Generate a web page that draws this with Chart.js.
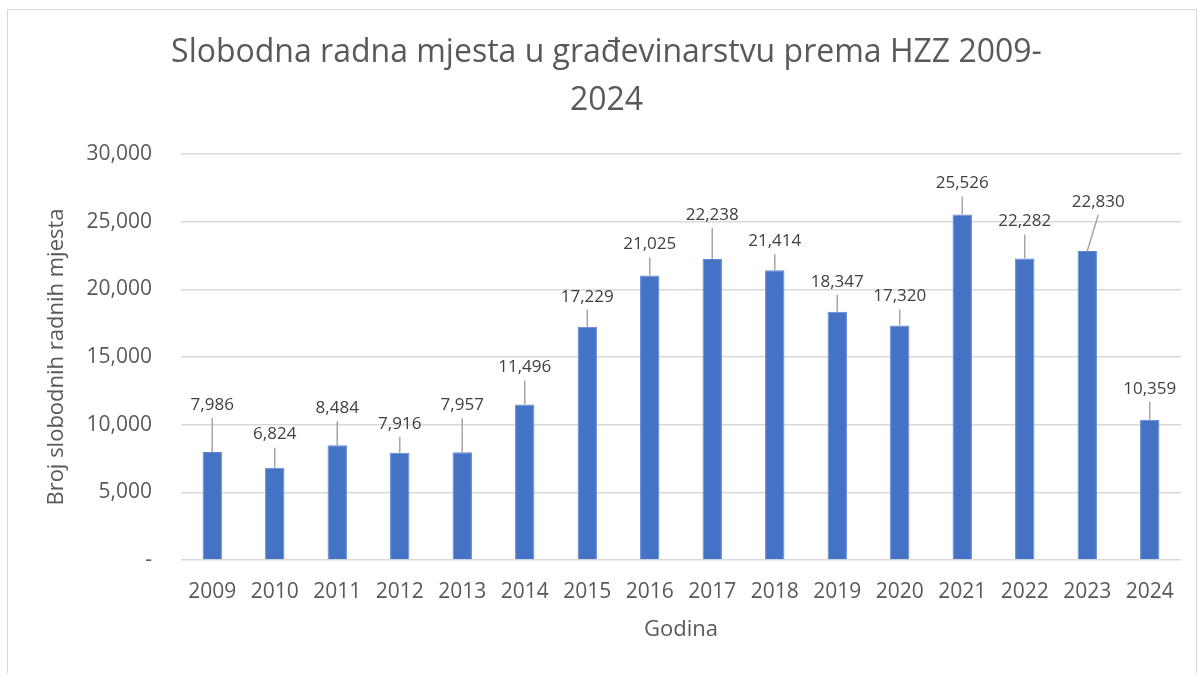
<!DOCTYPE html>
<html lang="hr">
<head>
  <meta charset="UTF-8"/>
  <title>Slobodna radna mjesta u građevinarstvu</title>
  <script src="https://cdn.jsdelivr.net/npm/chart.js"></script>
  <style>
    body {
      margin: 0;
      background: #fff;
      font-family: 'Open Sans', sans-serif;
    }
    .frame {
      position: absolute;
      left: 7px;
      top: 9px;
      width: 1190px;
      height: 670px;
      border: 1px solid #d9d9d9;
      box-sizing: border-box;
    }
  </style>
</head>
<body>
  <div class="frame">
    <canvas id="hzzChart" width="1188" height="668"></canvas>
  </div>

  <script>
    const years = ['2009', '2010', '2011', '2012', '2013', '2014', '2015', '2016',
                   '2017', '2018', '2019', '2020', '2021', '2022', '2023', '2024'];
    const vacancies = [7986, 6824, 8484, 7916, 7957, 11496, 17229, 21025,
                       22238, 21414, 18347, 17320, 25526, 22282, 22830, 10359];
    const yTicks = [0, 5000, 10000, 15000, 20000, 25000, 30000];

    // where Excel dragged each data label (px from the bar top)
    const labelShift = [
      [0, -47], [0, -33], [0, -37], [0, -29], [0, -47], [0, -37], [0, -30], [0, -31],
      [0, -44], [0, -29], [0, -30], [0, -29], [0, -31], [0, -37], [11, -49], [0, -31]
    ];

    const fmt = v => v === 0 ? '-' : v.toLocaleString('en-US');

    const leaderLabels = {
      id: 'leaderLabels',
      afterDatasetsDraw(chart) {
        const ctx = chart.ctx;
        const meta = chart.getDatasetMeta(0);
        ctx.save();
        ctx.font = '17px "Open Sans", sans-serif';
        ctx.textAlign = 'center';
        ctx.textBaseline = 'middle';
        meta.data.forEach((bar, i) => {
          const [dx, dy] = labelShift[i];
          const lx = bar.x + dx;
          const ly = bar.y + dy;
          ctx.strokeStyle = '#a6a6a6';
          ctx.lineWidth = 1.5;
          ctx.beginPath();
          ctx.moveTo(lx, ly + 13);
          ctx.lineTo(bar.x, bar.y);
          ctx.stroke();
          ctx.fillStyle = '#404040';
          ctx.fillText(fmt(vacancies[i]), lx, ly);
        });
        ctx.restore();
      }
    };

    new Chart(document.getElementById('hzzChart'), {
      type: 'bar',
      data: {
        labels: years,
        datasets: [{
          data: vacancies,
          backgroundColor: '#4472c4',
          borderColor: '#5b86d6',
          borderWidth: 1,
          barPercentage: 0.31,
          categoryPercentage: 1
        }]
      },
      options: {
        responsive: false,
        animation: false,
        layout: { padding: { left: 24, right: 15, top: 0, bottom: 0 } },
        plugins: {
          legend: { display: false },
          tooltip: { enabled: false },
          title: {
            display: true,
            text: ['Slobodna radna mjesta u građevinarstvu prema HZZ 2009-', '2024'],
            color: '#595959',
            font: { family: 'Open Sans', size: 32, weight: 'normal', lineHeight: 1.5 },
            padding: { top: 19, bottom: 29 }
          }
        },
        scales: {
          x: {
            afterFit(scale) { scale.height = 118; },
            grid: { display: false, drawTicks: false },
            border: { display: false },
            ticks: { color: '#595959', font: { family: 'Open Sans', size: 21 }, padding: 19 },
            title: {
              display: true,
              text: 'Godina',
              color: '#595959',
              font: { family: 'Open Sans', size: 22 },
              padding: { top: 0, bottom: 35 }
            }
          },
          y: {
            min: 0,
            max: 30000,
            afterBuildTicks(scale) {
              scale.ticks = yTicks.map(v => ({ value: v }));
            },
            afterFit(scale) { scale.width = 149; },
            grid: { color: '#d9d9d9', lineWidth: 1.5, drawTicks: false },
            border: { display: false },
            ticks: {
              color: '#595959',
              font: { family: 'Open Sans', size: 21 },
              padding: 29,
              callback: v => fmt(v)
            },
            title: {
              display: true,
              text: 'Broj slobodnih radnih mjesta',
              color: '#595959',
              font: { family: 'Open Sans', size: 22 },
              padding: { top: 12, bottom: 0 }
            }
          }
        }
      },
      plugins: [leaderLabels]
    });
  </script>
</body>
</html>
